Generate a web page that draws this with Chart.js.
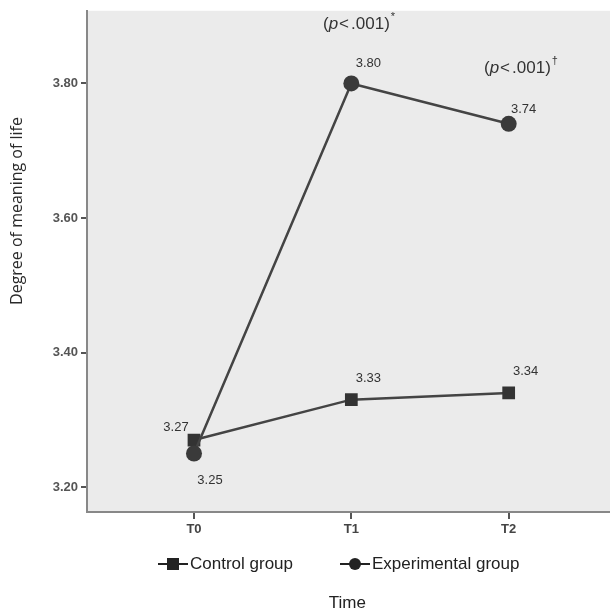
<!DOCTYPE html>
<html>
<head>
<meta charset="utf-8">
<script src="https://cdn.jsdelivr.net/npm/chart.js@4/dist/chart.umd.min.js"></script>
<style>
  html, body { margin: 0; padding: 0; background: #fff; }
  #wrap { position: relative; width: 610px; height: 613px; }
</style>
</head>
<body>
<div id="wrap"><canvas id="chart"></canvas></div>
<script>
// data
const timeLabels = ["T0", "T1", "T2"];
const controlValues = [3.27, 3.33, 3.34];
const experimentalValues = [3.25, 3.80, 3.74];
const yTickValues = [3.2, 3.4, 3.6, 3.8];
const pNotes = [
  { at: 1, text: "(p<.001)", mark: "*" },
  { at: 2, text: "(p<.001)", mark: "\u2020" },
];

// label placement (pixels relative to the point)
const controlLabelOffsets = [[-18, -13], [17, -21], [17, -22]];
const experimentalLabelOffsets = [[16, 27], [17, -20], [15, -14]];

const toPoints = (vals) => vals.map((v, i) => ({ x: i, y: v }));

const plotBackground = {
  id: "plotBackground",
  beforeDraw(chart) {
    const { ctx, chartArea: a } = chart;
    ctx.save();
    ctx.fillStyle = "#ebebeb";
    ctx.fillRect(a.left, a.top, a.right - a.left, a.bottom - a.top);
    ctx.restore();
  },
};

const valueLabels = {
  id: "valueLabels",
  afterDatasetsDraw(chart) {
    const ctx = chart.ctx;
    ctx.save();
    ctx.font = "13px 'Liberation Sans', Arial, sans-serif";
    ctx.fillStyle = "#333";
    ctx.textAlign = "center";
    ctx.textBaseline = "middle";
    chart.data.datasets.forEach((ds, di) => {
      const meta = chart.getDatasetMeta(di);
      meta.data.forEach((pt, i) => {
        const off = ds.labelOffsets[i];
        ctx.fillText(ds.data[i].y.toFixed(2), pt.x + off[0], pt.y + off[1]);
      });
    });
    ctx.restore();
  },
};

const extras = {
  id: "extras",
  afterDraw(chart) {
    const ctx = chart.ctx;
    const xs = chart.scales.x;
    ctx.save();

    // p-value notes
    const notePos = [[323, 24], [484, 68]];
    const f = "17px 'Liberation Sans', Arial, sans-serif";
    pNotes.forEach((n, k) => {
      let x = notePos[k][0];
      const y = notePos[k][1];
      ctx.fillStyle = "#333";
      ctx.textBaseline = "middle";
      ctx.textAlign = "left";
      const parts = [
        ["(", f, 0],
        ["p", "italic " + f, 1],
        ["<", f, 2],
        [".001)", f, 0],
      ];
      parts.forEach(([t, font, gap]) => {
        ctx.font = font;
        ctx.fillText(t, x, y);
        x += ctx.measureText(t).width + gap;
      });
      ctx.font = "11px 'Liberation Sans', Arial, sans-serif";
      ctx.fillText(n.mark, x + 1, y - 7);
    });

    // y axis title
    ctx.save();
    ctx.translate(17, 211);
    ctx.rotate(-Math.PI / 2);
    ctx.font = "16px 'Open Sans', sans-serif";
    ctx.fillStyle = "#2a2a2a";
    ctx.textAlign = "center";
    ctx.textBaseline = "middle";
    ctx.fillText("Degree of meaning of life", 0, 0);
    ctx.restore();

    // legend
    const legendY = 564;
    const items = [
      { x: 158, label: "Control group", style: "rect" },
      { x: 340, label: "Experimental group", style: "circle" },
    ];
    items.forEach((it) => {
      ctx.strokeStyle = "#222";
      ctx.lineWidth = 2;
      ctx.beginPath();
      ctx.moveTo(it.x, legendY);
      ctx.lineTo(it.x + 30, legendY);
      ctx.stroke();
      ctx.fillStyle = "#222";
      if (it.style === "rect") {
        ctx.fillRect(it.x + 9, legendY - 6, 12, 12);
      } else {
        ctx.beginPath();
        ctx.arc(it.x + 15, legendY, 6, 0, Math.PI * 2);
        ctx.fill();
      }
      ctx.font = "17px 'Liberation Sans', Arial, sans-serif";
      ctx.textAlign = "left";
      ctx.textBaseline = "middle";
      ctx.fillText(it.label, it.x + 32, legendY);
    });

    // x axis title
    ctx.font = "17px 'Liberation Sans', Arial, sans-serif";
    ctx.fillStyle = "#222";
    ctx.textAlign = "center";
    ctx.textBaseline = "middle";
    ctx.fillText("Time", xs.getPixelForValue(1) - 4, 603);

    ctx.restore();
  },
};

const ctx = document.getElementById("chart").getContext("2d");

new Chart(ctx, {
  type: "line",
  data: {
    datasets: [
      {
        label: "Experimental group",
        data: toPoints(experimentalValues),
        labelOffsets: experimentalLabelOffsets,
        borderColor: "#444",
        backgroundColor: "#3a3a3a",
        borderWidth: 2.5,
        pointStyle: "circle",
        pointRadius: 8,
        pointBorderWidth: 0,
        tension: 0,
      },
      {
        label: "Control group",
        data: toPoints(controlValues),
        labelOffsets: controlLabelOffsets,
        borderColor: "#444",
        backgroundColor: "#333",
        borderWidth: 2.5,
        pointStyle: "rect",
        pointRadius: 9,
        pointBorderWidth: 0,
        tension: 0,
      },
    ],
  },
  options: {
    responsive: true,
    maintainAspectRatio: false,
    animation: false,
    layout: {
      autoPadding: false,
      padding: { left: 0, top: 7, right: 0, bottom: 71 },
    },
    plugins: {
      legend: { display: false },
      tooltip: { enabled: false },
    },
    scales: {
      x: {
        type: "linear",
        min: -0.68,
        max: 2.644,
        afterBuildTicks: (scale) => {
          scale.ticks = timeLabels.map((_, i) => ({ value: i }));
        },
        afterFit: (scale) => {
          scale.height = 30;
        },
        ticks: {
          callback: (value) => timeLabels[value],
          color: "#444",
          font: { family: "'Liberation Sans', Arial, sans-serif", size: 13, weight: "bold" },
          padding: 3,
          maxRotation: 0,
        },
        grid: {
          drawOnChartArea: false,
          drawTicks: true,
          tickLength: 7,
          color: "#555",
          lineWidth: 2,
        },
        border: { display: true, color: "#888", width: 2 },
      },
      y: {
        min: 3.163,
        max: 3.908,
        afterBuildTicks: (scale) => {
          scale.ticks = yTickValues.map((v) => ({ value: v }));
        },
        afterFit: (scale) => {
          scale.width = 87;
        },
        ticks: {
          callback: (value) => value.toFixed(2),
          color: "#555",
          font: { family: "'Liberation Sans', Arial, sans-serif", size: 13, weight: "bold" },
          padding: 3,
        },
        grid: {
          drawOnChartArea: false,
          drawTicks: true,
          tickLength: 6,
          color: "#555",
          lineWidth: 2,
        },
        border: { display: true, color: "#888", width: 2 },
      },
    },
  },
  plugins: [plotBackground, valueLabels, extras],
});
</script>
</body>
</html>
